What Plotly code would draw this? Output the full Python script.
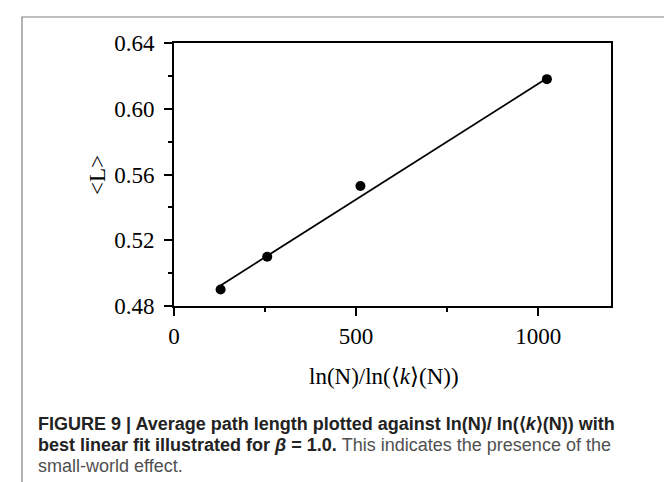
import plotly.graph_objects as go

# ---- data ----
x_vals = [128, 256, 512, 1024]
L_vals = [0.490, 0.510, 0.553, 0.618]
fit_x = [128, 1024]
fit_y = [0.4925, 0.6185]
x_ticks = [0, 500, 1000]
y_ticks = [0.48, 0.52, 0.56, 0.60, 0.64]

W, H = 672, 482
PL, PR, PT, PB = 166, 603, 35, 298  # plot area in px


def px(xp):
    return (xp - PL) / (PR - PL)


def py(yp):
    return (PB - yp) / (PB - PT)


fig = go.Figure()
fig.add_trace(go.Scatter(x=fit_x, y=fit_y, mode="lines",
                         line=dict(color="black", width=1.8),
                         showlegend=False, hoverinfo="skip"))
fig.add_trace(go.Scatter(x=x_vals, y=L_vals, mode="markers",
                         marker=dict(color="black", size=10),
                         showlegend=False))

serif = "Liberation Serif, Times New Roman, serif"
sans = "Liberation Sans, Arial, sans-serif"

axis_common = dict(showline=True, mirror=True, linecolor="black", linewidth=2,
                   ticks="outside", ticklen=8, tickwidth=1.5, tickcolor="black",
                   showgrid=False, zeroline=False,
                   tickfont=dict(family=serif, size=23, color="black"))

fig.update_xaxes(range=[0, 1200], tickvals=x_ticks,
                 minor=dict(ticks="outside", ticklen=4, tickwidth=1.5, tickcolor="black", dtick=250, tick0=0),
                 **axis_common)
fig.update_yaxes(range=[0.48, 0.64], tickvals=y_ticks, tickformat=".2f", ticklabelstandoff=5,
                 minor=dict(ticks="outside", ticklen=4, tickwidth=1.5, tickcolor="black", dtick=0.02, tick0=0.48),
                 **axis_common)

cap_size = 18
annotations = [
    dict(text="ln(N)/ln(⟨<i>k</i>⟩(N))", x=px(376), y=py(368), xref="paper", yref="paper",
         xanchor="center", yanchor="middle", showarrow=False,
         font=dict(family=serif, size=23, color="black")),
    dict(text="&lt;L&gt;", x=px(89), y=py(167), xref="paper", yref="paper",
         xanchor="center", yanchor="middle", showarrow=False, textangle=-90,
         font=dict(family=serif, size=23, color="black")),
    dict(text="<b>FIGURE 9 | Average path length plotted against ln(N)/ ln(⟨<i>k</i>⟩(N)) with</b>",
         x=px(28), y=py(416), xref="paper", yref="paper", xanchor="left", yanchor="middle",
         showarrow=False, font=dict(family=sans, size=cap_size, color="#222222")),
    dict(text="<b>best linear fit illustrated for <i>β</i> = 1.0.</b><span style='color:#505050'> This indicates the presence of the</span>",
         x=px(28), y=py(437), xref="paper", yref="paper", xanchor="left", yanchor="middle",
         showarrow=False, font=dict(family=sans, size=cap_size, color="#222222")),
    dict(text="small-world effect.",
         x=px(28), y=py(458), xref="paper", yref="paper", xanchor="left", yanchor="middle",
         showarrow=False, font=dict(family=sans, size=cap_size, color="#505050")),
]

fig.update_layout(
    width=W, height=H,
    margin=dict(l=PL, r=W - PR, t=PT, b=H - PB, autoexpand=False),
    paper_bgcolor="white", plot_bgcolor="white",
    annotations=annotations,
    shapes=[dict(type="rect", xref="paper", yref="paper",
                 x0=px(14), x1=px(668), y0=py(520), y1=py(9),
                 line=dict(color="#808080", width=1.2), layer="below")],
)

fig.write_html("out.html")
